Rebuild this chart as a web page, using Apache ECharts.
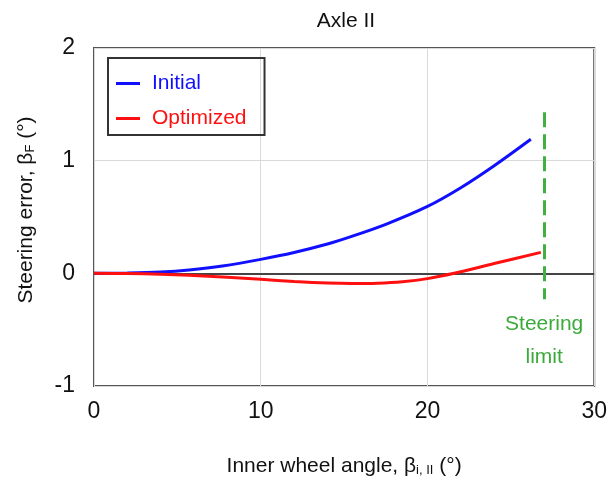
<!DOCTYPE html>
<html>
<head>
<meta charset="utf-8">
<script src="https://cdn.jsdelivr.net/npm/echarts@6/dist/echarts.min.js"></script>
<style>
  html, body { margin: 0; padding: 0; background: #fff; }
  #chart { width: 610px; height: 482px; }
</style>
</head>
<body>
<div id="chart"></div>
<script>
// values
const initialX = [0, 2, 4, 5.7, 7.7, 10, 12, 14, 15.5, 17.5, 20, 22, 24, 26.2];
const initialY = [0, 0.003, 0.012, 0.03, 0.065, 0.124, 0.185, 0.26, 0.33, 0.435, 0.594, 0.76, 0.955, 1.19];
const optimizedX = [0, 2, 4, 5.7, 8, 10, 12, 14, 15.5, 17, 18.5, 20, 21.6, 24, 26.8];
const optimizedY = [0, -0.002, -0.008, -0.018, -0.035, -0.053, -0.072, -0.086, -0.09, -0.087, -0.074, -0.047, 0, 0.087, 0.186];
const limitX = 27;
const limitTop = 1.43;
const limitBottom = -0.23;
const xTicks = [0, 10, 20, 30];
const yTicks = [-1, 0, 1, 2];

const font = "'Liberation Sans', Arial, sans-serif";
const pairs = (xs, ys) => xs.map((x, i) => [x, ys[i]]);

let chartDom = document.getElementById('chart');
let myChart = echarts.init(chartDom, null, {renderer: 'canvas'});
let option = {
  animation: false,
  textStyle: { fontFamily: font },
  title: {
    text: 'Axle II',
    left: 341,
    top: 6,
    textAlign: 'center',
    textStyle: { fontFamily: font, fontSize: 21, fontWeight: 'normal', color: '#111' }
  },
  legend: {
    orient: 'vertical',
    left: 108,
    top: 58,
    padding: [15, 18, 6, 8],
    itemGap: 14,
    itemWidth: 24,
    itemHeight: 3,
    icon: 'rect',
    borderColor: '#333',
    borderWidth: 2,
    textStyle: { fontFamily: font, fontSize: 21, padding: [0, 0, 0, 7] },
    data: [
      { name: 'Initial', textStyle: { color: '#1010ff' } },
      { name: 'Optimized', textStyle: { color: '#ff1010' } }
    ]
  },
  grid: {
    left: 94,
    right: 14,
    top: 48,
    bottom: 94,
    show: true,
    borderColor: '#555',
    borderWidth: 2
  },
  xAxis: {
    type: 'value',
    min: xTicks[0],
    max: xTicks[xTicks.length - 1],
    interval: 10,
    name: 'Inner wheel angle, β{s|i, II} (°)',
    nameLocation: 'middle',
    nameGap: 70,
    nameTextStyle: {
      fontFamily: font, fontSize: 21, color: '#111',
      rich: { s: { fontFamily: font, fontSize: 13, color: '#111', verticalAlign: 'bottom', padding: [8, 0, 0, 0] } }
    },
    axisLine: { show: false, onZero: false },
    axisTick: { show: false },
    axisLabel: { fontFamily: font, fontSize: 23, color: '#111', margin: 14 },
    splitLine: { show: true, lineStyle: { color: '#d9d9d9', width: 1 } }
  },
  yAxis: {
    type: 'value',
    min: yTicks[0],
    max: yTicks[yTicks.length - 1],
    interval: 1,
    name: 'Steering error, β{s|F} (°)',
    nameLocation: 'middle',
    nameGap: 57,
    nameTextStyle: {
      fontFamily: font, fontSize: 21, color: '#111',
      padding: [0, 0, 0, 14],
      rich: { s: { fontFamily: font, fontSize: 13, color: '#111', verticalAlign: 'bottom', padding: [8, 0, 0, 0] } }
    },
    axisLine: { show: false },
    axisTick: { show: false },
    axisLabel: { fontFamily: font, fontSize: 23, color: '#111', margin: 19 },
    splitLine: { show: true, lineStyle: { color: '#d9d9d9', width: 1 } }
  },
  series: [
    {
      name: 'Initial',
      type: 'line',
      smooth: 0.3,
      symbol: 'none',
      data: pairs(initialX, initialY),
      lineStyle: { color: '#1010ff', width: 3 },
      itemStyle: { color: '#1010ff' },
      z: 4
    },
    {
      name: 'Optimized',
      type: 'line',
      smooth: 0.3,
      symbol: 'none',
      data: pairs(optimizedX, optimizedY),
      lineStyle: { color: '#ff1010', width: 3 },
      itemStyle: { color: '#ff1010' },
      z: 5,
      markLine: {
        silent: true,
        symbol: 'none',
        z: 3,
        data: [
          {
            yAxis: 0,
            lineStyle: { color: '#444', width: 2, type: 'solid' },
            label: { show: false }
          },
          [
            { coord: [limitX, limitTop] },
            {
              coord: [limitX, limitBottom],
              lineStyle: { color: '#40b040', width: 3, type: [15, 7] },
              label: {
                show: true,
                position: 'end',
                distance: 8,
                formatter: 'Steering\nlimit',
                color: '#3aaa3a',
                fontFamily: font,
                fontSize: 21,
                lineHeight: 33,
                align: 'center'
              }
            }
          ]
        ]
      }
    }
  ]
};
option && myChart.setOption(option);
</script>
</body>
</html>
